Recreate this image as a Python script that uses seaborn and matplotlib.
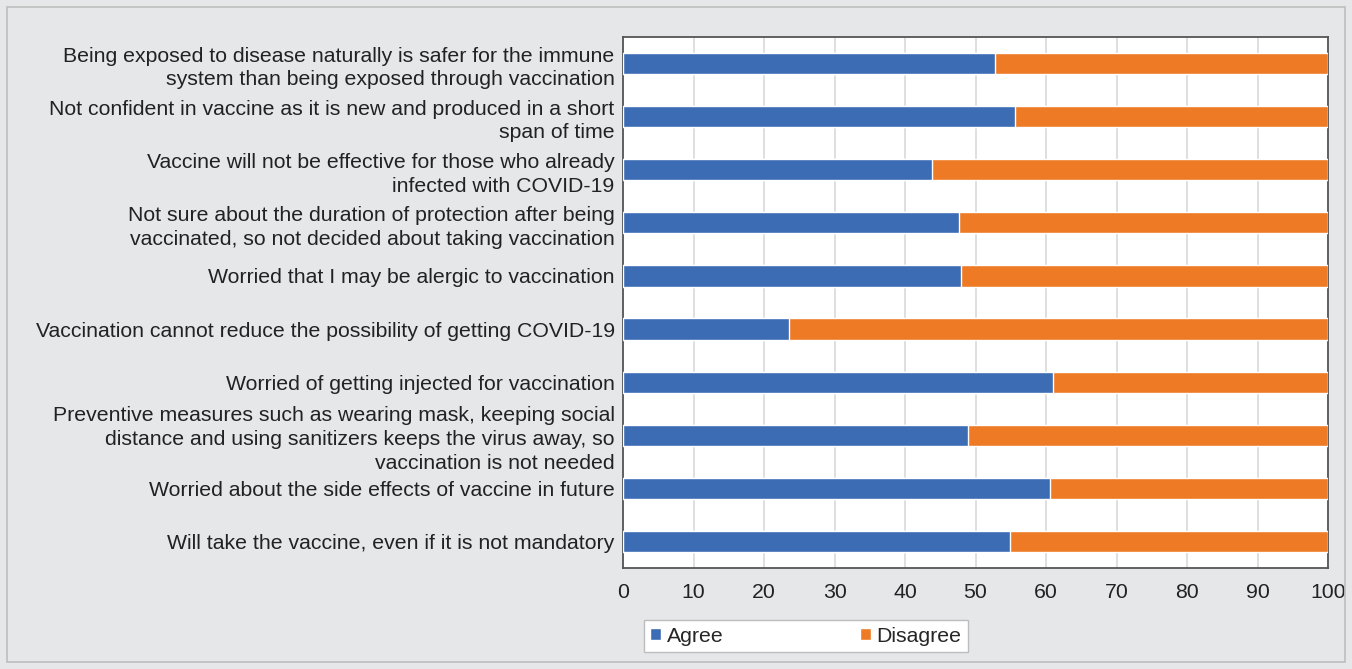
import matplotlib
matplotlib.use("Agg")
import matplotlib.pyplot as plt
import seaborn as sns
import pandas as pd
from matplotlib.patches import Rectangle

statements = [
    "Being exposed to disease naturally is safer for the immune\nsystem than being exposed through vaccination",
    "Not confident in vaccine as it is new and produced in a short\nspan of time",
    "Vaccine will not be effective for those who already\ninfected with COVID-19",
    "Not sure about the duration of protection after being\nvaccinated, so not decided about taking vaccination",
    "Worried that I may be alergic to vaccination",
    "Vaccination cannot reduce the possibility of getting COVID-19",
    "Worried of getting injected for vaccination",
    "Preventive measures such as wearing mask, keeping social\ndistance and using sanitizers keeps the virus away, so\nvaccination is not needed",
    "Worried about the side effects of vaccine in future",
    "Will take the vaccine, even if it is not mandatory",
]
agree = [52.7, 55.6, 43.8, 47.7, 48.0, 23.6, 61.0, 49.0, 60.6, 54.9]
disagree = [100 - a for a in agree]
x_ticks = list(range(0, 101, 10))

BLUE = "#3b6cb4"
ORANGE = "#ee7a25"
BG = "#e6e7e9"
FS = 15.3

sns.set_theme(style="white")
plt.rcParams["font.family"] = ["Liberation Sans", "DejaVu Sans"]

df = pd.DataFrame({"statement": statements, "agree": agree,
                   "total": [a + d for a, d in zip(agree, disagree)]})

fig = plt.figure(figsize=(13.52, 6.69), dpi=100, facecolor=BG)
fig.patches.append(Rectangle((7 / 1352, 7 / 669), 1 - 14 / 1352, 1 - 14 / 669,
                             transform=fig.transFigure, fill=False,
                             edgecolor="#bdbdbd", linewidth=1.2, zorder=0))
ax = fig.add_axes([623 / 1352, 1 - 568 / 669, (1328 - 623) / 1352, (568 - 37) / 669])
ax.set_facecolor("white")

# Disagree fills the full bar, Agree is drawn over its left part
sns.barplot(data=df, y="statement", x="total", color=ORANGE, orient="h",
            width=0.4, saturation=1, ax=ax, label="Disagree", zorder=3)
sns.barplot(data=df, y="statement", x="agree", color=BLUE, orient="h",
            width=0.4, saturation=1, ax=ax, label="Agree", zorder=4)

handles, labels = ax.get_legend_handles_labels()
if ax.get_legend() is not None:
    ax.get_legend().remove()

ax.set_xlim(0, 100)
ax.set_ylim(9.5, -0.5)
ax.set_xticks(x_ticks)
ax.set_xlabel("")
ax.set_ylabel("")
ax.xaxis.grid(True, color="#dcdcdc", linewidth=1.3, zorder=0)
ax.set_axisbelow(True)
ax.tick_params(axis="x", length=0, pad=11, labelsize=FS, labelcolor="#222222")
ax.tick_params(axis="y", length=0, pad=6, labelsize=FS, labelcolor="#222222")
for lbl in ax.get_yticklabels():
    lbl.set_linespacing(1.32)
for s in ax.spines.values():
    s.set_color("#555555")
    s.set_linewidth(1.3)

order = [labels.index("Agree"), labels.index("Disagree")]
leg = fig.legend([handles[i] for i in order], [labels[i] for i in order],
                 loc="center left", bbox_to_anchor=(644 / 1352, 1 - 636 / 669),
                 ncol=2, frameon=True, fancybox=False, fontsize=FS,
                 handlelength=0.5, handleheight=0.5, handletextpad=0.26,
                 columnspacing=6.45, borderpad=0.3, borderaxespad=0)
leg.get_frame().set_edgecolor("#bdbdbd")
leg.get_frame().set_facecolor("white")
leg.get_frame().set_alpha(1)
leg.get_frame().set_linewidth(1.0)

fig.savefig("out.png", dpi=100, facecolor=BG)
